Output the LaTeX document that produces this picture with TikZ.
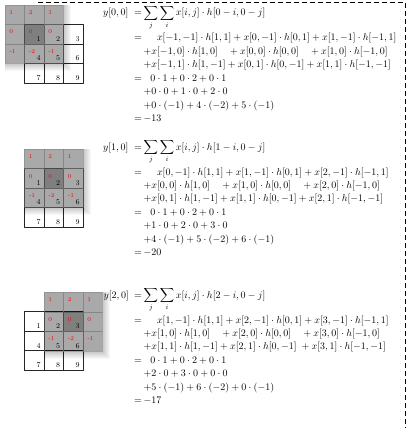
\documentclass[tikz,border=0pt]{standalone}
\usepackage{amsmath}
\newcommand{\pixsize}{19.5}
\newcommand{\eqsign}{\makebox[9.5pt][l]{$=$}}
\tikzset{
  pixel/.style={draw=black!85,line width=0.5pt},
  pixnum/.style={inner sep=0pt,font=\fontsize{7.5}{8}\selectfont,anchor=base east},
  kernum/.style={inner sep=0pt,font=\fontsize{6}{7}\selectfont,text=red,anchor=base west},
  kernel/.style={fill=black,fill opacity=0.12,draw=black!50,draw opacity=0.5,line width=0.4pt},
  kercenter/.style={fill=black,fill opacity=0.25},
  eqline/.style={inner sep=0pt,anchor=base west},
  frame/.style={dash pattern=on 5pt off 3pt,line width=0.8pt}
}
\begin{document}
\begin{tikzpicture}[x=1pt,y=-1pt,line join=round]
\useasboundingbox (0,0) rectangle (407,428);
\draw[frame] (38,2) -- (405,2) -- (405,428);
% input image and sliding kernel, one per output
\foreach \k/\gy in {0/24.3,1/168.3,2/311.7}{
  \foreach \r in {0,1,2}
    \foreach \c in {0,1,2}{
      \pgfmathtruncatemacro{\n}{3*\r+\c+1}
      \draw[pixel] (24.3+\c*\pixsize,\gy+\r*\pixsize) rectangle ++(\pixsize,\pixsize);
      \node[pixnum] (x\k-\n) at (24.3+\c*\pixsize+\pixsize-3,\gy+\r*\pixsize+\pixsize-2.4) {\n};
    }
  \pgfmathsetmacro{\kx}{24.3+(\k-1)*\pixsize}
  \pgfmathsetmacro{\ky}{\gy-\pixsize}
  % shadow
  \foreach \s in {0,...,8}
    \fill[black,opacity=0.03] (\kx,\ky) rectangle ++(3*\pixsize+\s,3*\pixsize+\s);
  \foreach \r in {0,1,2}
    \foreach \c in {0,1,2}
      \path[kernel] (\kx+\c*\pixsize,\ky+\r*\pixsize) rectangle ++(\pixsize,\pixsize);
  \fill[kercenter] (\kx+\pixsize,\ky+\pixsize) rectangle ++(\pixsize,\pixsize);
  \foreach \v [count=\i from 0] in {1,2,1,0,0,0,-1,-2,-1}{
    \pgfmathtruncatemacro{\r}{div(\i,3)}
    \pgfmathtruncatemacro{\c}{mod(\i,3)}
    \node[kernum] (h\k-\i) at (\kx+\c*\pixsize+4.3,\ky+\r*\pixsize+9.7) {\v};
  }
}
% y[0,0]
\node[eqline] (y0-1) at (103,16) {\makebox[31pt][l]{$y[0,0]$}\eqsign$\displaystyle\sum_j\sum_i x[i,j]\cdot h[0-i,0-j]$};
\node[eqline] (y0-2) at (134,41) {\eqsign$\quad\ x[-1,-1]\cdot h[1,1]+x[0,-1]\cdot h[0,1]+x[1,-1]\cdot h[-1,1]$};
\node[eqline] (y0-3) at (143.5,54.4) {${+}x[-1,0]\cdot h[1,0]\quad+x[0,0]\cdot h[0,0]\quad+x[1,0]\cdot h[-1,0]$};
\node[eqline] (y0-4) at (143.5,67.8) {${+}x[-1,1]\cdot h[1,-1]+x[0,1]\cdot h[0,-1]+x[1,1]\cdot h[-1,-1]$};
\node[eqline] (y0-5) at (134,81.2) {\eqsign$\ \ 0\cdot 1+0\cdot 2+0\cdot 1$};
\node[eqline] (y0-6) at (143.5,94.6) {${+}0\cdot 0+1\cdot 0+2\cdot 0$};
\node[eqline] (y0-7) at (143.5,108) {${+}0\cdot(-1)+4\cdot(-2)+5\cdot(-1)$};
\node[eqline] (y0-8) at (134,121.4) {\eqsign$-13$};
% y[1,0]
\node[eqline] (y1-1) at (103,150) {\makebox[31pt][l]{$y[1,0]$}\eqsign$\displaystyle\sum_j\sum_i x[i,j]\cdot h[1-i,0-j]$};
\node[eqline] (y1-2) at (134,175) {\eqsign$\quad\ x[0,-1]\cdot h[1,1]+x[1,-1]\cdot h[0,1]+x[2,-1]\cdot h[-1,1]$};
\node[eqline] (y1-3) at (143.5,188.4) {${+}x[0,0]\cdot h[1,0]\quad+x[1,0]\cdot h[0,0]\quad+x[2,0]\cdot h[-1,0]$};
\node[eqline] (y1-4) at (143.5,201.8) {${+}x[0,1]\cdot h[1,-1]+x[1,1]\cdot h[0,-1]+x[2,1]\cdot h[-1,-1]$};
\node[eqline] (y1-5) at (134,215.2) {\eqsign$\ \ 0\cdot 1+0\cdot 2+0\cdot 1$};
\node[eqline] (y1-6) at (143.5,228.6) {${+}1\cdot 0+2\cdot 0+3\cdot 0$};
\node[eqline] (y1-7) at (143.5,242) {${+}4\cdot(-1)+5\cdot(-2)+6\cdot(-1)$};
\node[eqline] (y1-8) at (134,255.4) {\eqsign$-20$};
% y[2,0]
\node[eqline] (y2-1) at (103.5,298) {\makebox[30.5pt][l]{$y[2,0]$}\eqsign$\displaystyle\sum_j\sum_i x[i,j]\cdot h[2-i,0-j]$};
\node[eqline] (y2-2) at (134,323) {\eqsign$\quad\ x[1,-1]\cdot h[1,1]+x[2,-1]\cdot h[0,1]+x[3,-1]\cdot h[-1,1]$};
\node[eqline] (y2-3) at (143.5,336.4) {${+}x[1,0]\cdot h[1,0]\quad+x[2,0]\cdot h[0,0]\quad+x[3,0]\cdot h[-1,0]$};
\node[eqline] (y2-4) at (143.5,349.8) {${+}x[1,1]\cdot h[1,-1]+x[2,1]\cdot h[0,-1]\;+x[3,1]\cdot h[-1,-1]$};
\node[eqline] (y2-5) at (134,363.2) {\eqsign$\ \ 0\cdot 1+0\cdot 2+0\cdot 1$};
\node[eqline] (y2-6) at (143.5,376.6) {${+}2\cdot 0+3\cdot 0+0\cdot 0$};
\node[eqline] (y2-7) at (143.5,390) {${+}5\cdot(-1)+6\cdot(-2)+0\cdot(-1)$};
\node[eqline] (y2-8) at (134,403.4) {\eqsign$-17$};
\end{tikzpicture}
\end{document}
